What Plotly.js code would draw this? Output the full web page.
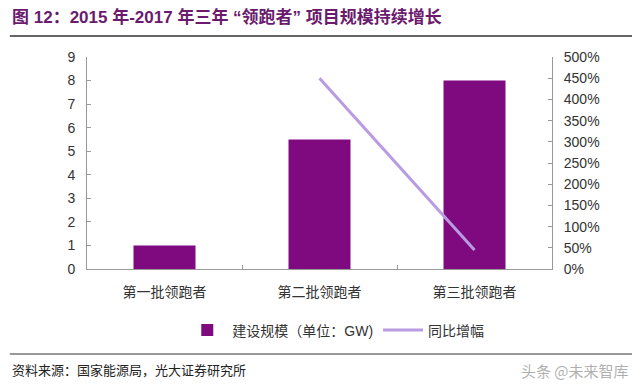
<!DOCTYPE html>
<html>
<head>
<meta charset="utf-8">
<script src="https://cdn.plot.ly/plotly-3.0.1.min.js"></script>
<style>html,body{margin:0;padding:0;background:#fff;}#chart{width:640px;height:387px;}</style>
</head>
<body>
<div id="chart"></div>
<script>
const categories = ["第一批领跑者", "第二批领跑者", "第三批领跑者"];
const scaleGW = [1, 5.5, 8];
const growthPct = [null, 450, 45];
const leftTicks = [0, 1, 2, 3, 4, 5, 6, 7, 8, 9];
const rightTicks = [0, 50, 100, 150, 200, 250, 300, 350, 400, 450, 500];
const barName = "建设规模（单位：GW)";
const lineName = "同比增幅";
const titleText = "图 12：2015 年-2017 年三年 “领跑者” 项目规模持续增长";
const sourceText = "资料来源：国家能源局，光大证券研究所";

const FONT = "'Liberation Sans', Arial, 'Noto Sans CJK SC', sans-serif";

const traces = [
  {
    type: "bar", x: categories, y: scaleGW, name: barName,
    marker: {color: "#7f0a80"}, yaxis: "y"
  },
  {
    type: "scatter", mode: "lines", x: categories, y: growthPct, name: lineName,
    line: {color: "#b99be3", width: 3}, yaxis: "y2", connectgaps: false
  }
];

const layout = {
  width: 640, height: 387,
  margin: {l: 87, r: 88, t: 57, b: 118},
  paper_bgcolor: "#fff", plot_bgcolor: "#fff",
  font: {family: FONT, size: 14, color: "#333"},
  showlegend: true,
  bargap: 0.6,
  xaxis: {
    type: "category", showline: true, linecolor: "#999", linewidth: 1,
    ticks: "inside", tickson: "boundaries", ticklen: 4, tickcolor: "#999",
    ticklabelstandoff: 10,
    tickfont: {size: 14, color: "#333"}, showgrid: false, zeroline: false, fixedrange: true
  },
  yaxis: {
    range: [0, 9], tickvals: leftTicks, ticktext: leftTicks.map(String),
    showline: true, linecolor: "#999", linewidth: 1,
    ticks: "inside", ticklen: 4, tickcolor: "#999", ticklabelstandoff: 8,
    showgrid: false, zeroline: false, tickfont: {size: 14, color: "#333"}
  },
  yaxis2: {
    range: [0, 500], overlaying: "y", side: "right",
    tickvals: rightTicks, ticktext: rightTicks.map(v => v + "%"),
    showline: true, linecolor: "#999", linewidth: 1,
    ticks: "inside", ticklen: 4, tickcolor: "#999", ticklabelstandoff: 8,
    showgrid: false, zeroline: false, tickfont: {size: 14, color: "#333"}
  },
  legend: {
    orientation: "h", x: 0.535, xanchor: "center", y: -0.29, yanchor: "middle",
    font: {size: 14, color: "#333"}, itemwidth: 40, tracegroupgap: 0
  },
  shapes: [
    {type: "line", xref: "paper", yref: "paper", x0: -0.166, x1: 1.172, y0: 1.099, y1: 1.099,
     line: {color: "#333", width: 1.5}},
    {type: "line", xref: "paper", yref: "paper", x0: -0.166, x1: 1.172, y0: -0.401, y1: -0.401,
     line: {color: "#333", width: 1}}
  ],
  annotations: [
    {xref: "paper", yref: "paper", x: -0.166, y: 1.189, xanchor: "left", yanchor: "middle",
     showarrow: false, text: "<b>" + titleText + "</b>",
     font: {family: "'Liberation Sans', Arial, 'Noto Sans CJK SC', sans-serif", size: 17, color: "#6a1b6e"}},
    {xref: "paper", yref: "paper", x: -0.166, y: -0.476, xanchor: "left", yanchor: "middle",
     showarrow: false, text: sourceText,
     font: {family: "'Noto Sans CJK SC', sans-serif", size: 13, color: "#222"}},
    {xref: "paper", yref: "paper", x: 1.17, y: -0.48, xanchor: "right", yanchor: "middle",
     showarrow: false, text: "头条 @未来智库",
     font: {family: "'Noto Sans CJK SC', sans-serif", size: 15, color: "rgba(120,120,120,0.6)"}}
  ]
};

Plotly.newPlot("chart", traces, layout, {displayModeBar: false, staticPlot: true});
</script>
</body>
</html>
